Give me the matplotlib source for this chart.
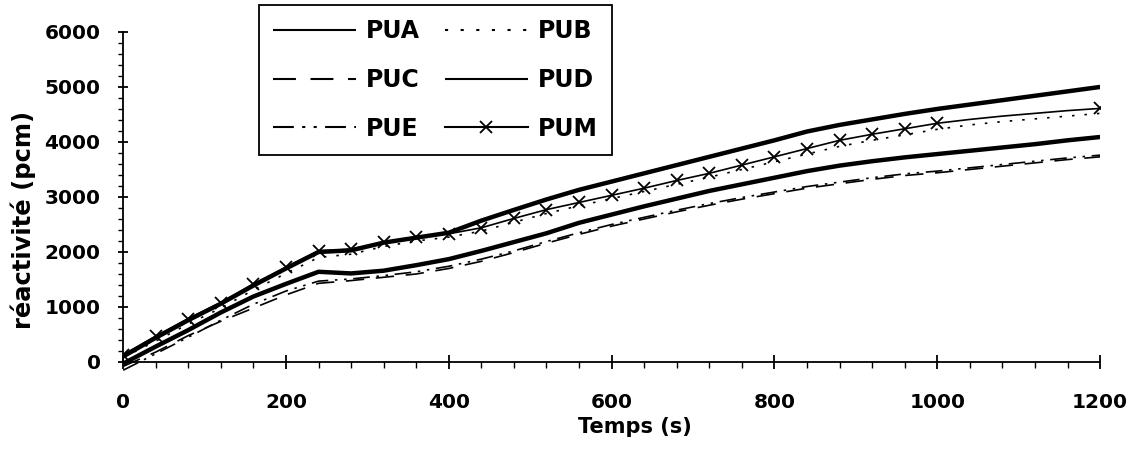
import matplotlib
matplotlib.use('Agg')
import matplotlib.pyplot as plt
from matplotlib.ticker import MultipleLocator

plt.rcParams['font.family'] = ['DejaVu Sans']
plt.rcParams['font.weight'] = 'bold'

# temps (s) et réactivité (pcm)
temps = [0, 40, 80, 120, 160, 200, 240, 280, 320, 360, 400, 440, 480, 520, 560, 600,
         640, 680, 720, 760, 800, 840, 880, 920, 960, 1000, 1040, 1080, 1120, 1160, 1200]
pua = [-30, 280, 580, 900, 1190, 1420, 1640, 1610, 1660, 1760, 1870, 2020, 2180, 2340, 2530, 2680,
       2830, 2970, 3110, 3230, 3350, 3470, 3570, 3650, 3720, 3780, 3840, 3900, 3960, 4030, 4090]
pub = [80, 380, 690, 980, 1310, 1610, 1900, 1960, 2100, 2200, 2270, 2380, 2540, 2700, 2840, 2970,
       3100, 3230, 3360, 3500, 3640, 3780, 3920, 4030, 4130, 4230, 4310, 4370, 4420, 4470, 4520]
puc = [-80, 180, 480, 740, 980, 1220, 1430, 1480, 1540, 1600, 1700, 1830, 1990, 2160, 2320, 2470,
       2600, 2730, 2850, 2960, 3060, 3160, 3240, 3320, 3390, 3440, 3500, 3560, 3620, 3680, 3730]
pud = [100, 440, 760, 1060, 1390, 1700, 2000, 2030, 2170, 2260, 2350, 2570, 2765, 2955, 3130, 3280,
       3430, 3580, 3730, 3880, 4030, 4190, 4310, 4410, 4510, 4600, 4680, 4760, 4840, 4920, 5000]
pue = [-150, 150, 450, 760, 1050, 1290, 1470, 1510, 1570, 1640, 1740, 1870, 2020, 2190, 2350, 2500,
       2630, 2760, 2880, 2990, 3090, 3190, 3270, 3350, 3420, 3470, 3530, 3590, 3650, 3710, 3760]
pum = [130, 470, 790, 1080, 1420, 1720, 2020, 2050, 2180, 2270, 2330, 2440, 2610, 2770, 2900, 3030,
       3160, 3300, 3430, 3580, 3730, 3880, 4030, 4140, 4240, 4340, 4410, 4470, 4520, 4570, 4610]

fig = plt.figure(figsize=(11.4, 4.5), dpi=100)
ax = fig.add_axes([0.108, 0.165, 0.857, 0.764])

la, = ax.plot(temps, pua, color='black', lw=3.2, solid_capstyle='butt', label='PUA')
lb, = ax.plot(temps, pub, color='black', lw=1.2, dashes=(1.5, 6), label='PUB')
lc, = ax.plot(temps, puc, color='black', lw=1.2, dashes=(11, 7), label='PUC')
ld, = ax.plot(temps, pud, color='black', lw=3.2, solid_capstyle='butt', label='PUD')
le, = ax.plot(temps, pue, color='black', lw=1.2, dashes=(10, 4, 1.5, 4, 1.5, 4), label='PUE')
lm, = ax.plot(temps, pum, color='black', lw=1.2, marker='x', ms=8, mew=1.3,
              markevery=list(range(26)) + [30], label='PUM')

ax.set_xlim(0, 1200)
ax.set_ylim(-250, 6000)
ax.spines['top'].set_visible(False)
ax.spines['right'].set_visible(False)
ax.spines['bottom'].set_position(('data', 0))
ax.spines['left'].set_bounds(0, 6000)
ax.spines['bottom'].set_linewidth(1.3)
ax.spines['left'].set_linewidth(1.3)

ax.xaxis.set_major_locator(MultipleLocator(200))
ax.xaxis.set_minor_locator(MultipleLocator(40))
ax.set_yticks(range(0, 6001, 1000))
ax.set_yticks(range(0, 6001, 200), minor=True)

ax.tick_params(axis='x', which='major', direction='inout', length=10, width=1.3, pad=17, labelsize=14.5)
ax.tick_params(axis='x', which='minor', direction='out', length=4, width=1)
ax.tick_params(axis='y', which='major', direction='inout', length=7.5, width=1.3, pad=12.5, labelsize=14.5)
ax.tick_params(axis='y', which='minor', direction='out', length=3.6, width=1)

fig.text(0.557, 0.051, 'Temps (s)', ha='center', va='center', fontsize=15, fontweight='bold')
fig.text(0.02, 0.511, 'réactivité (pcm)', ha='center', va='center', rotation=90,
         fontsize=17.5, fontweight='bold')

# ordre ligne par ligne comme dans l'original
handles = [la, lc, le, lb, ld, lm]
leg = ax.legend(handles=handles, labels=[h.get_label() for h in handles], ncol=2,
                loc='upper left', bbox_to_anchor=(0.139, 0.5, 0.361, 0.5785),
                mode='expand', borderaxespad=0, fancybox=False, edgecolor='black',
                framealpha=1, fontsize=17, handlelength=3.5, handletextpad=0.42,
                labelspacing=1.05, borderpad=0.6)
leg.get_frame().set_linewidth(1.3)
for line in leg.get_lines():
    line.set_linewidth(1.5)

fig.savefig('out.png', dpi=100)
